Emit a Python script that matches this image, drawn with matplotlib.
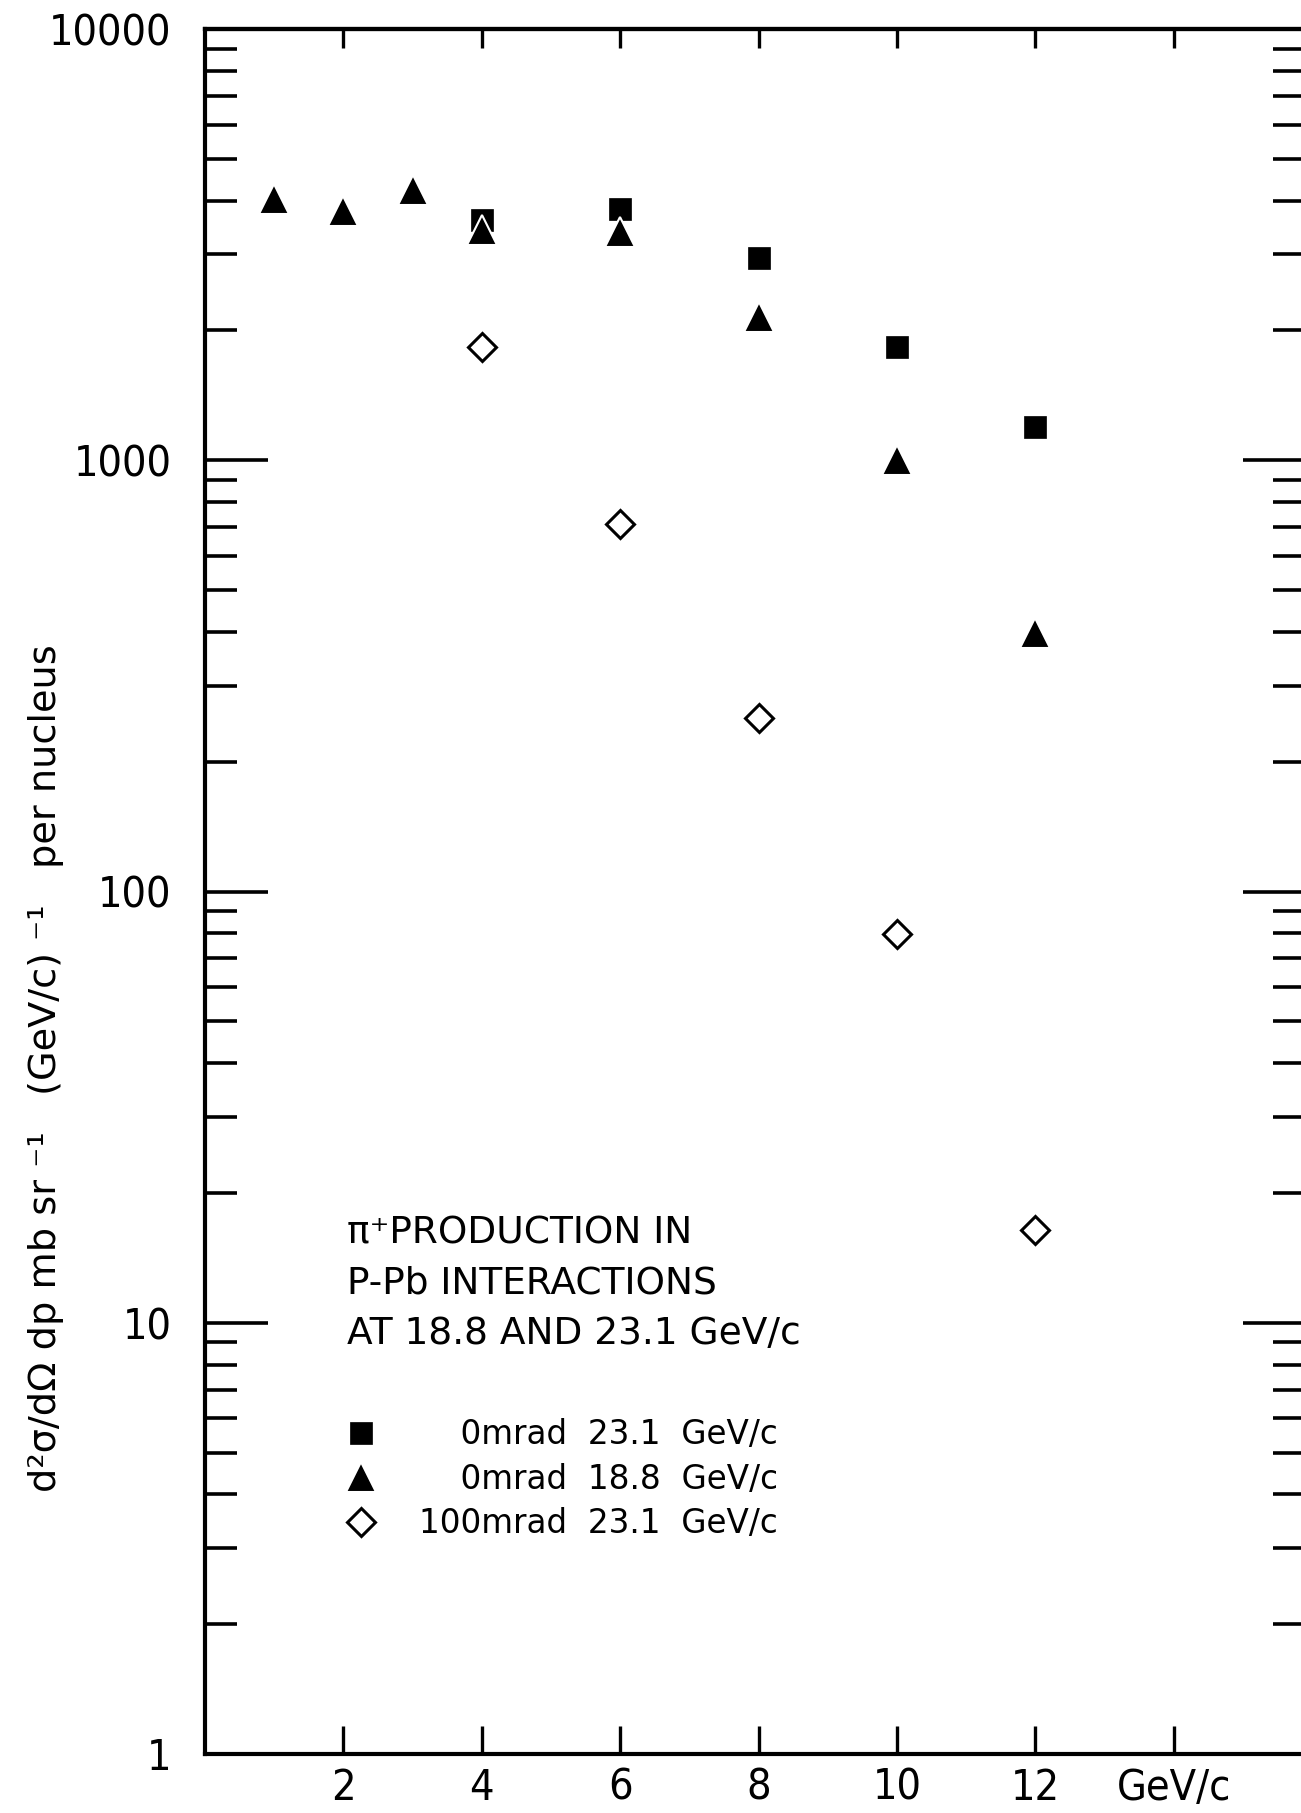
import matplotlib
matplotlib.use("Agg")
import matplotlib.pyplot as plt
from matplotlib import font_manager as fm
from matplotlib.ticker import FixedLocator, FixedFormatter, NullFormatter

# ---------------- data ----------------
p_sq = [4, 6, 8, 10, 12]                      # 0 mrad, 23.1 GeV/c
sq_vals = [3616, 3821, 2940, 1830, 1196]

p_tri = [1, 2, 3, 4, 6, 8, 10, 12]            # 0 mrad, 18.8 GeV/c
tri_vals = [4035, 3784, 4235, 3415, 3391, 2145, 1002, 398]

p_dia = [4, 6, 8, 10, 12]                     # 100 mrad, 23.1 GeV/c
dia_vals = [1834, 712, 252, 79.6, 16.4]

xtick_pos = [2, 4, 6, 8, 10, 12, 14]
xtick_labels = ["2", "4", "6", "8", "10", "12", "GeV/c"]
ytick_pos = [1, 10, 100, 1000, 10000]
ytick_labels = ["1", "10", "100", "1000", "10000"]
yminor_pos = [m * 10 ** e for e in range(0, 4) for m in range(2, 10)]

legend_labels = ["\u2007\u20070mrad  23.1  GeV/c",
                 "\u2007\u20070mrad  18.8  GeV/c",
                 "100mrad  23.1  GeV/c"]
title_lines = ["\u03c0\u207aPRODUCTION IN",
               "P-Pb INTERACTIONS",
               "AT 18.8 AND 23.1 GeV/c"]
ylabel_text = "d\u00b2\u03c3/d\u03a9 dp mb sr \u207b\u00b9   (GeV/c) \u207b\u00b9   per nucleus"

# ---------------- style ----------------
plt.rcParams["font.family"] = ["DejaVu Sans"]
has_condensed = any(f.name == "DejaVu Sans" and "condensed" in str(f.stretch)
                    for f in fm.fontManager.ttflist)
tick_fs = 31 if has_condensed else 28

W, H = 1301, 1813
fig = plt.figure(figsize=(W / 100, H / 100), dpi=100)
fig.patch.set_facecolor("white")

left_px, top_px, bottom_px = 205, 29, 1754
px_per_unit = 69.2
right_px = 1305
xmax = (right_px - left_px) / px_per_unit
ax = fig.add_axes([left_px / W, 1 - bottom_px / H,
                   (right_px - left_px) / W, (bottom_px - top_px) / H])

ax.set_yscale("log")
ax.set_xlim(0, xmax)
ax.set_ylim(1, 10000)

for s in ax.spines.values():
    s.set_linewidth(3.0)
ax.spines["right"].set_visible(False)

ax.xaxis.set_major_locator(FixedLocator(xtick_pos))
ax.xaxis.set_major_formatter(FixedFormatter(xtick_labels))
ax.xaxis.set_minor_locator(FixedLocator([]))
ax.yaxis.set_major_locator(FixedLocator(ytick_pos))
ax.yaxis.set_major_formatter(FixedFormatter(ytick_labels))
ax.yaxis.set_minor_locator(FixedLocator(yminor_pos))
ax.yaxis.set_minor_formatter(NullFormatter())

ax.tick_params(axis="y", which="major", direction="in", length=45, width=2.6,
               left=True, right=True, labelsize=tick_fs, pad=24)
ax.tick_params(axis="y", which="minor", direction="in", length=23, width=2.6,
               left=True, right=True)
ax.tick_params(axis="x", which="major", direction="in", length=20, width=2.4,
               bottom=True, top=False, labelsize=tick_fs, pad=9)

top = ax.secondary_xaxis("top")
top.set_xticks(xtick_pos)
top.tick_params(direction="in", length=14, width=2.4, labeltop=False)
top.spines["top"].set_linewidth(3.0)

for t in ax.get_xticklabels() + ax.get_yticklabels():
    t.set_fontstretch("condensed")

# ---------------- data marks ----------------
h_sq, = ax.plot(p_sq, sq_vals, linestyle="none", marker="s", ms=16.5,
                mfc="black", mec="black", mew=0.5, clip_on=False, zorder=3)
h_tri, = ax.plot(p_tri, tri_vals, linestyle="none", marker="^", ms=21,
                 mfc="black", mec="white", mew=1.5, clip_on=False, zorder=4)
h_dia, = ax.plot(p_dia, dia_vals, linestyle="none", marker="D", ms=14,
                 mfc="white", mec="black", mew=2.2, clip_on=False, zorder=3)

# ---------------- legend ----------------
leg = ax.legend([h_sq, h_tri, h_dia], legend_labels,
                loc="upper left", bbox_to_anchor=(337 / W, 1 - 1418 / H),
                bbox_transform=fig.transFigure, frameon=False,
                fontsize=23.5, numpoints=1, handlelength=1.5,
                handletextpad=1.0, labelspacing=0.36, borderpad=0,
                borderaxespad=0)

# ---------------- annotation & axis label ----------------
baselines = [1243, 1293, 1344]
for line, yb in zip(title_lines, baselines):
    fig.text(346.7 / W, 1 - yb / H, line, fontsize=27, ha="left",
             va="baseline")

fig.text(46 / W, 1 - 1068 / H, ylabel_text, rotation=90, fontsize=27.5,
         ha="center", va="center")

fig.savefig("out.png", dpi=100, facecolor="white")
